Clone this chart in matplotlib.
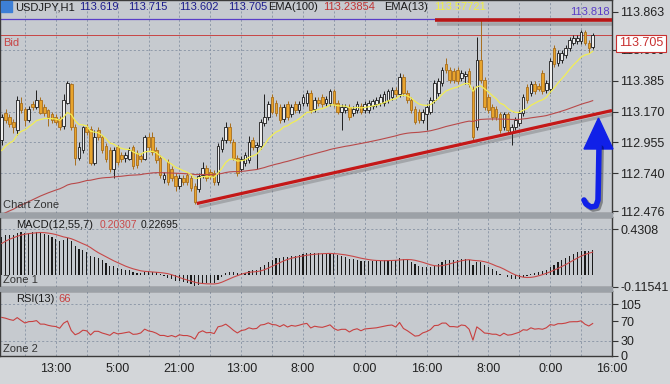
import numpy as np
import matplotlib.pyplot as plt
import matplotlib.patheffects as pe
from matplotlib.patches import Rectangle, Polygon
from matplotlib.lines import Line2D

W, H = 670, 384

# USDJPY H1 candles, left to right
opens = [112.97, 113.16, 113.13, 113.10, 113.04, 113.23, 113.19, 113.11, 113.22, 113.20,
         113.25, 113.20, 113.18, 113.15, 113.13, 113.12, 113.07, 113.23, 113.36, 113.06,
         112.85, 112.90, 113.06, 113.05, 112.81, 113.04, 112.99, 112.93, 112.90, 112.77,
         112.92, 112.87, 112.85, 112.84, 112.92, 112.88, 112.86, 112.84, 112.99, 112.99,
         112.90, 112.85, 112.70, 112.82, 112.77, 112.72, 112.65, 112.71, 112.73, 112.71,
         112.65, 112.63, 112.73, 112.78, 112.75, 112.74, 112.68, 112.91, 112.97, 113.06,
         112.96, 112.85, 112.77, 112.81, 112.83, 112.97, 112.92, 112.93, 113.09, 113.13,
         113.27, 113.23, 113.20, 113.12, 113.22, 113.15, 113.22, 113.18, 113.23, 113.23,
         113.30, 113.19, 113.25, 113.27, 113.23, 113.23, 113.31, 113.23, 113.17, 113.18,
         113.20, 113.16, 113.18, 113.21, 113.18, 113.18, 113.21, 113.22, 113.23, 113.23,
         113.25, 113.27, 113.32, 113.29, 113.41, 113.30, 113.25, 113.19, 113.17, 113.11,
         113.15, 113.17, 113.25, 113.30, 113.37, 113.50, 113.46, 113.45, 113.46, 113.40,
         113.42, 113.45, 113.33, 113.06, 113.53, 113.39, 113.27, 113.20, 113.19, 113.15,
         113.06, 113.15, 113.02, 113.06, 113.09, 113.16, 113.34, 113.30, 113.36, 113.35,
         113.44, 113.32, 113.33, 113.61, 113.51, 113.53, 113.56, 113.61, 113.65, 113.66,
         113.66, 113.72, 113.65, 113.619]
highs = [113.15, 113.19, 113.15, 113.12, 113.28, 113.27, 113.20, 113.21, 113.24, 113.32,
         113.27, 113.22, 113.19, 113.17, 113.15, 113.14, 113.29, 113.38, 113.37, 113.08,
         112.96, 113.07, 113.08, 113.07, 113.04, 113.06, 113.01, 112.95, 112.92, 112.92,
         112.94, 112.89, 112.89, 112.92, 112.94, 112.90, 112.88, 113.01, 113.02, 113.03,
         112.92, 112.87, 112.75, 112.84, 112.79, 112.74, 112.73, 112.73, 112.75, 112.73,
         112.67, 112.74, 112.82, 112.80, 112.77, 112.76, 112.95, 112.99, 113.10, 113.09,
         112.98, 112.87, 112.86, 112.89, 113.00, 112.99, 112.96, 113.12, 113.29, 113.24,
         113.29, 113.25, 113.22, 113.22, 113.24, 113.22, 113.24, 113.24, 113.29, 113.32,
         113.32, 113.27, 113.27, 113.29, 113.28, 113.33, 113.33, 113.25, 113.22, 113.22,
         113.22, 113.21, 113.24, 113.23, 113.24, 113.25, 113.26, 113.27, 113.29, 113.31,
         113.33, 113.34, 113.34, 113.44, 113.43, 113.32, 113.27, 113.21, 113.19, 113.19,
         113.22, 113.27, 113.39, 113.40, 113.48, 113.54, 113.48, 113.47, 113.48, 113.46,
         113.45, 113.47, 113.35, 113.69, 113.81, 113.41, 113.29, 113.22, 113.21, 113.17,
         113.17, 113.17, 113.08, 113.13, 113.18, 113.29, 113.36, 113.38, 113.38, 113.37,
         113.46, 113.39, 113.54, 113.63, 113.60, 113.60, 113.63, 113.69, 113.70, 113.70,
         113.74, 113.74, 113.67, 113.715]
lows = [112.94, 113.09, 113.06, 113.02, 113.01, 113.16, 113.07, 113.10, 113.18, 113.19,
        113.15, 113.14, 113.07, 113.09, 113.08, 113.04, 113.05, 113.22, 113.04, 112.80,
        112.83, 112.88, 113.01, 112.80, 112.80, 112.97, 112.88, 112.82, 112.75, 112.71,
        112.80, 112.82, 112.82, 112.83, 112.77, 112.78, 112.82, 112.83, 112.90, 112.87,
        112.81, 112.71, 112.67, 112.66, 112.69, 112.62, 112.63, 112.66, 112.66, 112.62,
        112.53, 112.61, 112.71, 112.69, 112.70, 112.66, 112.66, 112.89, 112.95, 112.95,
        112.83, 112.72, 112.75, 112.79, 112.81, 112.90, 112.77, 112.91, 113.07, 113.11,
        113.15, 113.14, 113.09, 113.10, 113.11, 113.13, 113.16, 113.16, 113.21, 113.21,
        113.16, 113.17, 113.21, 113.20, 113.21, 113.21, 113.20, 113.15, 113.04, 113.16,
        113.11, 113.14, 113.16, 113.15, 113.16, 113.16, 113.19, 113.20, 113.21, 113.21,
        113.23, 113.25, 113.27, 113.27, 113.28, 113.23, 113.16, 113.08, 113.09, 113.09,
        113.04, 113.15, 113.23, 113.28, 113.35, 113.44, 113.37, 113.37, 113.36, 113.38,
        113.36, 113.34, 112.97, 113.04, 113.37, 113.18, 113.16, 113.11, 113.11, 113.02,
        113.04, 113.02, 112.94, 113.04, 113.07, 113.14, 113.23, 113.28, 113.29, 113.31,
        113.29, 113.30, 113.30, 113.48, 113.49, 113.51, 113.54, 113.59, 113.63, 113.64,
        113.64, 113.63, 113.58, 113.602]
closes = [113.13, 113.11, 113.08, 113.06, 113.25, 113.18, 113.11, 113.19, 113.20, 113.25,
          113.16, 113.16, 113.13, 113.11, 113.10, 113.06, 113.25, 113.37, 113.06, 112.85,
          112.92, 113.06, 113.03, 112.81, 112.99, 112.99, 112.90, 112.84, 112.77, 112.90,
          112.82, 112.84, 112.87, 112.90, 112.79, 112.80, 112.84, 112.99, 112.92, 112.89,
          112.83, 112.73, 112.73, 112.68, 112.71, 112.65, 112.71, 112.68, 112.68, 112.64,
          112.54, 112.72, 112.78, 112.71, 112.72, 112.68, 112.93, 112.97, 113.06, 112.97,
          112.85, 112.74, 112.84, 112.87, 112.96, 112.92, 112.94, 113.10, 113.13, 113.22,
          113.17, 113.16, 113.11, 113.20, 113.13, 113.20, 113.18, 113.22, 113.27, 113.30,
          113.18, 113.25, 113.23, 113.22, 113.26, 113.31, 113.22, 113.17, 113.20, 113.20,
          113.13, 113.19, 113.22, 113.17, 113.22, 113.23, 113.24, 113.25, 113.27, 113.29,
          113.31, 113.32, 113.29, 113.41, 113.30, 113.25, 113.18, 113.10, 113.11, 113.17,
          113.20, 113.25, 113.37, 113.38, 113.46, 113.46, 113.39, 113.39, 113.38, 113.44,
          113.43, 113.36, 112.99, 113.53, 113.39, 113.20, 113.18, 113.13, 113.13, 113.04,
          113.15, 113.04, 113.06, 113.11, 113.16, 113.27, 113.25, 113.36, 113.31, 113.33,
          113.31, 113.37, 113.52, 113.50, 113.58, 113.58, 113.61, 113.67, 113.68, 113.68,
          113.72, 113.65, 113.61, 113.705]

time_labels = ["13:00", "5:00", "21:00", "13:00", "8:00", "0:00", "16:00", "8:00", "0:00", "16:00"]
price_ticks = [113.863, 113.600, 113.385, 113.170, 112.955, 112.740, 112.476]
macd_ticks = [0.4308, -0.11541]
macd_tick_labels = ["0.4308", "-0.11541"]
rsi_ticks = [105, 70, 30, 0]

# indicator state just before the first visible bar
ema13_start = 112.86
ema100_start = 112.44
ema12_start = 112.85
ema55_start = 112.51
macd_prior = [0.22, 0.25, 0.28, 0.30, 0.32, 0.34]
rsi_gain_start = 0.050
rsi_loss_start = 0.018

high_line = 113.812      # purple high line
hline_drawn = 113.806    # hand drawn resistance
trend_start = (50.5, 112.53)
trend_end = (158.0, 113.177)


def ema(values, period, start):
    k = 2.0 / (period + 1)
    out, prev = [], start
    for v in values:
        prev = prev + k * (v - prev)
        out.append(prev)
    return np.array(out)


o = np.array(opens); h = np.array(highs); l = np.array(lows); c = np.array(closes)
x = np.arange(len(c))

ema13 = ema(c, 13, ema13_start)
ema100 = ema(c, 100, ema100_start)
macd = ema(c, 12, ema12_start) - ema(c, 55, ema55_start)
full = np.concatenate([macd_prior, macd])
signal = np.array([full[i:i + 7].mean() for i in range(len(macd))])

g, lo = rsi_gain_start, rsi_loss_start
rsi = []
prev = o[0]
for v in c:
    d = v - prev
    g = (g * 12 + max(d, 0)) / 13
    lo = (lo * 12 + max(-d, 0)) / 13
    rsi.append(100 - 100 / (1 + g / lo))
    prev = v
rsi = np.array(rsi)

# figure
fig = plt.figure(figsize=(W / 100, H / 100), dpi=100)
fig.patch.set_facecolor("#d3d6d9")
plt.rcParams["font.family"] = ["Liberation Sans", "DejaVu Sans"]


def fx(px):
    return px / W


def fy(py):
    return 1 - py / H


def px_axes(x0, y0, x1, y1):
    return fig.add_axes([fx(x0), fy(y1), (x1 - x0) / W, (y1 - y0) / H])


# gaps between the zones
for y0, y1 in [(213, 217), (287, 291)]:
    fig.patches.append(Rectangle((0, fy(y1)), fx(612), (y1 - y0) / H,
                                 transform=fig.transFigure, color="#9ca1a7", zorder=0))

ax1 = px_axes(0, 0, 612, 213)
ax2 = px_axes(0, 217, 612, 287)
ax3 = px_axes(0, 291, 612, 356)

grid_c = "#8793a3"
grid_x = np.arange(6, 159, 8)


def style(ax, ylim, ticks, labels, grid_y):
    ax.set_facecolor("#c6cacf")
    ax.set_xlim(-0.45, 158)
    ax.set_ylim(*ylim)
    ax.yaxis.tick_right()
    ax.set_yticks(ticks)
    ax.set_yticklabels(labels)
    ax.tick_params(axis="y", direction="out", length=4, width=0.8, color="#333333",
                   labelsize=9, labelcolor="#222222", pad=2)
    ax.tick_params(axis="x", length=0, labelbottom=False)
    for s in ax.spines.values():
        s.set_color("#3a3a3a")
        s.set_linewidth(1)
    for xv in grid_x:
        ax.axvline(xv, color=grid_c, lw=0.6, ls=(0, (2.5, 2.5)), zorder=0.5)
    for yv in grid_y:
        ax.axhline(yv, color=grid_c, lw=0.6, ls=(0, (2.5, 2.5)), zorder=0.5)


style(ax1, (112.464, 113.946), price_ticks, [f"{v:.3f}" for v in price_ticks],
      [113.600, 113.385, 113.170, 112.955, 112.740])
style(ax2, (-0.118, 0.548), macd_ticks, macd_tick_labels, [0.4308])
style(ax3, (-0.6, 131.5), rsi_ticks, [str(v) for v in rsi_ticks], [105, 30])

# candles
up = c >= o
ax1.vlines(x[up], l[up], h[up], color="#1e1e1e", lw=0.7, zorder=2)
ax1.vlines(x[~up], l[~up], h[~up], color="#a86e1c", lw=0.7, zorder=2)
ax1.bar(x[up], c[up] - o[up], bottom=o[up], width=0.68, color="#eeeeee",
        edgecolor="#1a1a1a", linewidth=0.6, zorder=3)
ax1.bar(x[~up], c[~up] - o[~up], bottom=o[~up], width=0.68, color="#e8a42c",
        edgecolor="#a86e1c", linewidth=0.6, zorder=3)

ax1.plot(x, ema100, color="#b84a4a", lw=0.8, zorder=4)
ax1.plot(x, ema13, color="#f2ee55", lw=0.9, zorder=4)

ax1.axhline(high_line, color="#5a3ec8", lw=0.9, zorder=1)
ax1.axhline(c[-1], color="#c84444", lw=0.7, zorder=1)

shadow = [pe.SimpleLineShadow(offset=(1.5, -2.5), shadow_color="#555555", alpha=0.3), pe.Normal()]
ax1.plot([112.2, 158], [hline_drawn, hline_drawn], color="#b81616", lw=2.6,
         solid_capstyle="butt", zorder=6, path_effects=shadow)
ax1.plot([trend_start[0], trend_end[0]], [trend_start[1], trend_end[1]], color="#c41818",
         lw=2.3, solid_capstyle="butt", zorder=6, path_effects=shadow)
ax1.text(fx(590), fy(12), "113.818", transform=fig.transFigure, ha="center", va="center",
         fontsize=8, color="#5a3ec8", zorder=5)

# MACD
ax2.bar(x, macd, width=0.3, color="#1a1a1a", zorder=2)
ax2.plot(x, signal, color="#c84848", lw=0.8, zorder=3)

# RSI
ax3.plot(x, rsi, color="#c84040", lw=0.8, zorder=3)
ax3.set_xticks(14 + 16 * np.arange(len(time_labels)))
ax3.set_xticklabels(time_labels)
ax3.tick_params(axis="x", labelbottom=True, length=0, pad=5, labelsize=9, labelcolor="#222222")

# header
fig.patches.append(Rectangle((fx(1), fy(12)), 11 / W, 11 / H, transform=fig.transFigure,
                             color="#3d7fd6", zorder=5))
fig.text(fx(6.5), fy(6.5), "↓", color="white", fontsize=7, fontweight="bold",
         ha="center", va="center")
head = [(15, "USDJPY,H1", "#1a1a1a"), (79, "113.619", "#1c1c8c"), (128, "113.715", "#1c1c8c"),
        (179, "113.602", "#1c1c8c"), (228, "113.705", "#1c1c8c"), (268, "EMA(100)", "#1a1a1a"),
        (323, "113.23854", "#c03434"), (384, "EMA(13)", "#1a1a1a"), (434, "113.57721", "#f0f040")]
for px, s, col in head:
    fig.text(fx(px), fy(7.5), s, color=col, fontsize=8, va="center")

fig.text(fx(3), fy(43), "Bid", color="#c84444", fontsize=8, va="center")
fig.text(fx(3), fy(205), "Chart Zone", color="#333333", fontsize=8, va="center")
fig.text(fx(16), fy(225), "MACD(12,55,7)", color="#1a1a1a", fontsize=8, va="center")
fig.text(fx(100), fy(225), "0.20307", color="#c84848", fontsize=7.5, va="center")
fig.text(fx(141), fy(225), "0.22695", color="#1a1a1a", fontsize=7.5, va="center")
fig.text(fx(3), fy(280), "Zone 1", color="#333333", fontsize=8, va="center")
fig.text(fx(16), fy(299), "RSI(13)", color="#1a1a1a", fontsize=8, va="center")
fig.text(fx(58), fy(299), "66", color="#c84040", fontsize=8, va="center")
fig.text(fx(3), fy(349), "Zone 2", color="#333333", fontsize=8, va="center")

# current price box
fig.text(fx(641), fy(43.5), "113.705", ha="center", va="center", fontsize=9, color="#c83030",
         bbox=dict(boxstyle="square,pad=0.2", fc="white", ec="#c83030", lw=0.8))

# blue arrow
arrow_x = [599, 598.5, 598, 596, 591, 586, 584]
arrow_y = [146, 175, 200, 206, 207, 204, 200]
fig.add_artist(Line2D([fx(v) for v in arrow_x], [fy(v) for v in arrow_y], color="#1020e8",
                      lw=4, solid_capstyle="round", solid_joinstyle="round",
                      transform=fig.transFigure,
                      path_effects=[pe.SimpleLineShadow(offset=(1.5, -1.5), alpha=0.35), pe.Normal()]))
fig.add_artist(Polygon([(fx(584), fy(149)), (fx(613), fy(149)), (fx(598.5), fy(118))],
                       closed=True, color="#1020e8", transform=fig.transFigure))

fig.savefig("out.png", dpi=100, facecolor=fig.get_facecolor())
